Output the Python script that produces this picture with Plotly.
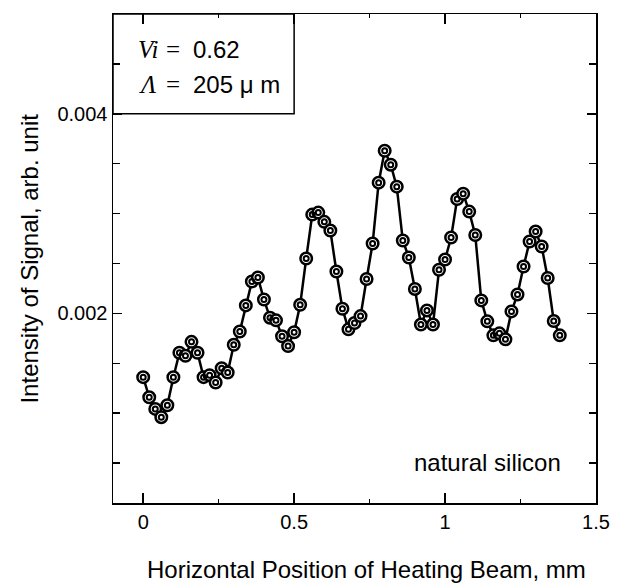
import plotly.graph_objects as go

# Data (position in mm, signal intensity)
x_pos = [0.00, 0.02, 0.04, 0.06, 0.08, 0.10, 0.12, 0.14, 0.16, 0.18,
         0.20, 0.22, 0.24, 0.26, 0.28, 0.30, 0.32, 0.34, 0.36, 0.38,
         0.40, 0.42, 0.44, 0.46, 0.48, 0.50, 0.52, 0.54, 0.56, 0.58,
         0.60, 0.62, 0.64, 0.66, 0.68, 0.70, 0.72, 0.74, 0.76, 0.78,
         0.80, 0.82, 0.84, 0.86, 0.88, 0.90, 0.92, 0.94, 0.96, 0.98,
         1.00, 1.02, 1.04, 1.06, 1.08, 1.10, 1.12, 1.14, 1.16, 1.18,
         1.20, 1.22, 1.24, 1.26, 1.28, 1.30, 1.32, 1.34, 1.36, 1.38]
signal = [0.001361, 0.001159, 0.001043, 0.000960, 0.001079, 0.001361, 0.001606, 0.001576, 0.001715, 0.001606,
          0.001361, 0.001381, 0.001308, 0.001450, 0.001407, 0.001685, 0.001818, 0.002080, 0.002320, 0.002360,
          0.002139, 0.001957, 0.001930, 0.001771, 0.001672, 0.001811, 0.002086, 0.002550, 0.002990, 0.003010,
          0.002917, 0.002830, 0.002420, 0.002047, 0.001840, 0.001904, 0.001973, 0.002345, 0.002700, 0.003310,
          0.003630, 0.003490, 0.003270, 0.002730, 0.002560, 0.002245, 0.001888, 0.002030, 0.001888, 0.002437,
          0.002540, 0.002760, 0.003146, 0.003200, 0.003020, 0.002785, 0.002130, 0.001920, 0.001780, 0.001800,
          0.001740, 0.002020, 0.002190, 0.002470, 0.002720, 0.002820, 0.002670, 0.002355, 0.001923, 0.001780]

x_ticks = [0, 0.5, 1, 1.5]
x_ticklabels = ["0", "0.5", "1", "1.5"]
y_ticks = [0.002, 0.004]
y_ticklabels = ["0.002", "0.004"]

FONT = "Liberation Sans, Arial, sans-serif"
SERIF = "Liberation Serif, Times New Roman, serif"

fig = go.Figure()
fig.add_trace(go.Scatter(
    x=x_pos, y=signal, mode="lines+markers",
    line=dict(color="black", width=2.5),
    marker=dict(symbol="circle", size=11.5, color="white",
                line=dict(color="black", width=2.5)),
    showlegend=False, hoverinfo="skip"))
fig.add_trace(go.Scatter(
    x=x_pos, y=signal, mode="markers",
    marker=dict(symbol="circle-open", size=5, color="black",
                line=dict(color="black", width=2)),
    showlegend=False, hoverinfo="skip"))

axis_common = dict(showline=True, linecolor="black", linewidth=1.5, mirror="allticks",
                   ticks="inside", tickcolor="black", showgrid=False, zeroline=False,
                   tickfont=dict(family=FONT, size=20, color="black"))

fig.update_xaxes(range=[-0.1, 1.5], tickvals=x_ticks, ticktext=x_ticklabels,
                 ticklen=10, tickwidth=1.5,
                 minor=dict(dtick=0.25, tick0=0, ticks="inside", ticklen=4, tickcolor="black", tickwidth=1.5),
                 **axis_common)
fig.update_yaxes(range=[0.0001, 0.005], tickvals=y_ticks, ticktext=y_ticklabels,
                 ticklen=9, tickwidth=1.5,
                 minor=dict(dtick=0.0005, tick0=0, ticks="inside", ticklen=7, tickcolor="black", tickwidth=1.5),
                 **axis_common)

# Parameter box
fig.add_shape(type="rect", xref="x", yref="y", x0=-0.1, x1=0.5, y0=0.004, y1=0.005,
              line=dict(color="black", width=1.5), fillcolor="rgba(0,0,0,0)")

W_PLOT, H_PLOT, L, T = 492, 491, 113, 12
def px(xp):
    return (xp - L) / W_PLOT
def py(yp):
    return (T + H_PLOT - yp) / H_PLOT

ann = []
def add(text, xp, yp, size=22, family=FONT, xanchor="left", yanchor="middle", angle=0):
    ann.append(dict(text=text, x=px(xp), y=py(yp), xref="paper", yref="paper",
                    xanchor=xanchor, yanchor=yanchor, showarrow=False, textangle=angle,
                    font=dict(family=family, size=size, color="black")))

add("<i>Vi</i>", 136, 48, family=SERIF, size=25)
add("=", 165, 48, family=SERIF, size=25)
add("0.62", 192, 48, size=24)
add("<i>Λ</i>", 137, 83, family=SERIF, size=25)
add("=", 165, 83, family=SERIF, size=25)
add("205 μ m", 192, 83, size=24)
add("natural silicon", 571, 462, xanchor="right", size=24)
add("Horizontal Position of Heating Beam, mm", 371, 570, xanchor="center", size=24)
add("Intensity of Signal, arb. unit", 28, 258, xanchor="center", size=24, angle=-90)

fig.update_layout(width=622, height=588, margin=dict(l=L, r=17, t=T, b=85),
                  paper_bgcolor="white", plot_bgcolor="white",
                  annotations=ann)

fig.write_html("out.html", config={"displayModeBar": False, "staticPlot": True},
               post_script="document.body.style.margin='0px';document.body.style.overflow='hidden';")
